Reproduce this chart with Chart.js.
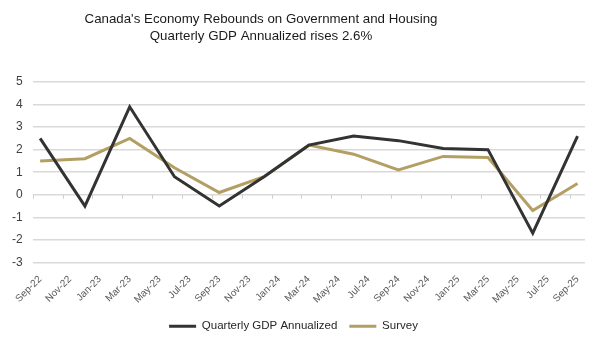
<!DOCTYPE html>
<html>
<head>
<meta charset="utf-8">
<script src="https://cdn.jsdelivr.net/npm/chart.js@4.4.1/dist/chart.umd.min.js"></script>
<style>
  html, body { margin: 0; padding: 0; background: #fff; }
  #wrap { width: 600px; height: 343px; }
</style>
</head>
<body>
<div id="wrap"><canvas id="gdpChart"></canvas></div>
<script>
const titleLines = [
    "Canada's Economy Rebounds on Government and Housing",
    'Quarterly GDP Annualized rises 2.6%'
];
// bimonthly tick labels on the date axis
const xTickLabels = ['Sep-22', 'Nov-22', 'Jan-23', 'Mar-23', 'May-23', 'Jul-23', 'Sep-23', 'Nov-23',
    'Jan-24', 'Mar-24', 'May-24', 'Jul-24', 'Sep-24', 'Nov-24', 'Jan-25', 'Mar-25', 'May-25', 'Jul-25', 'Sep-25'];
// quarterly observations (Sep-22 .. Sep-25)
const quarters = ['Sep-22', 'Dec-22', 'Mar-23', 'Jun-23', 'Sep-23', 'Dec-23', 'Mar-24',
    'Jun-24', 'Sep-24', 'Dec-24', 'Mar-25', 'Jun-25', 'Sep-25'];
const gdpAnnualized = [2.5, -0.5, 3.9, 0.8, -0.5, 0.8, 2.2, 2.6, 2.4, 2.05, 2.0, -1.7, 2.6];
const survey = [1.5, 1.6, 2.5, 1.2, 0.1, 0.8, 2.2, 1.8, 1.1, 1.7, 1.65, -0.7, 0.5];

// months since Sep-22, 3 per quarter
const toPoints = vals => vals.map((v, i) => ({ x: i * 3, y: v }));

const titlePlugin = {
    id: 'offsetTitle',
    afterDraw(chart) {
        const ctx = chart.ctx;
        ctx.save();
        ctx.fillStyle = '#1a1a1a';
        ctx.font = '13.3px "Liberation Sans", Arial, sans-serif';
        ctx.textAlign = 'center';
        ctx.textBaseline = 'middle';
        ctx.fillText(titleLines[0], 261, 19);
        ctx.fillText(titleLines[1], 261, 36);
        ctx.restore();
    }
};

// small tick marks hanging off the zero line, between the month labels
const zeroTicks = {
    id: 'zeroTicks',
    beforeDatasetsDraw(chart) {
        const x = chart.scales.x, y = chart.scales.y;
        const y0 = y.getPixelForValue(0);
        const ctx = chart.ctx;
        ctx.save();
        ctx.strokeStyle = '#d0d0d0';
        ctx.lineWidth = 1;
        for (let k = 0; k < xTickLabels.length; k++) {
            const px = Math.round(x.getPixelForValue(k * 2 - 0.5)) + 0.5;
            ctx.beginPath();
            ctx.moveTo(px, y0);
            ctx.lineTo(px, y0 + 4);
            ctx.stroke();
        }
        ctx.restore();
    }
};

new Chart(document.getElementById('gdpChart'), {
    type: 'line',
    data: {
        datasets: [{
            label: 'Quarterly GDP Annualized',
            data: toPoints(gdpAnnualized),
            borderColor: '#333333',
            backgroundColor: '#333333',
            borderWidth: 3,
            pointRadius: 0,
            tension: 0
        }, {
            label: 'Survey',
            data: toPoints(survey),
            borderColor: '#b39f63',
            backgroundColor: '#b39f63',
            borderWidth: 3,
            pointRadius: 0,
            tension: 0
        }]
    },
    options: {
        responsive: true,
        maintainAspectRatio: false,
        animation: false,
        layout: {
            padding: { top: 82, left: 2, right: 15, bottom: 1 }
        },
        scales: {
            x: {
                type: 'linear',
                min: -0.5,
                max: 36.5,
                afterBuildTicks: scale => {
                    scale.ticks = xTickLabels.map((_, i) => ({ value: i * 2 }));
                },
                grid: { display: false },
                border: { display: false },
                ticks: {
                    autoSkip: false,
                    minRotation: 45,
                    maxRotation: 45,
                    padding: 3,
                    color: '#595959',
                    font: { family: '"Liberation Sans", Arial, sans-serif', size: 10 },
                    callback: v => xTickLabels[v / 2]
                }
            },
            y: {
                min: -3,
                max: 5,
                ticks: {
                    stepSize: 1,
                    padding: 10,
                    color: '#404040',
                    font: { family: '"Liberation Sans", Arial, sans-serif', size: 12 }
                },
                grid: { color: '#d9d9d9', lineWidth: 1.5, drawTicks: false },
                border: { display: false }
            }
        },
        plugins: {
            title: { display: false },
            tooltip: { enabled: false },
            legend: {
                position: 'bottom',
                labels: {
                    boxWidth: 27,
                    boxHeight: 3,
                    padding: 12,
                    color: '#262626',
                    font: { family: '"Liberation Sans", Arial, sans-serif', size: 11.5 },
                    generateLabels: chart => Chart.defaults.plugins.legend.labels.generateLabels(chart)
                        .map(l => ({ ...l, lineWidth: 0 }))
                }
            }
        }
    },
    plugins: [titlePlugin, zeroTicks]
});
</script>
</body>
</html>
